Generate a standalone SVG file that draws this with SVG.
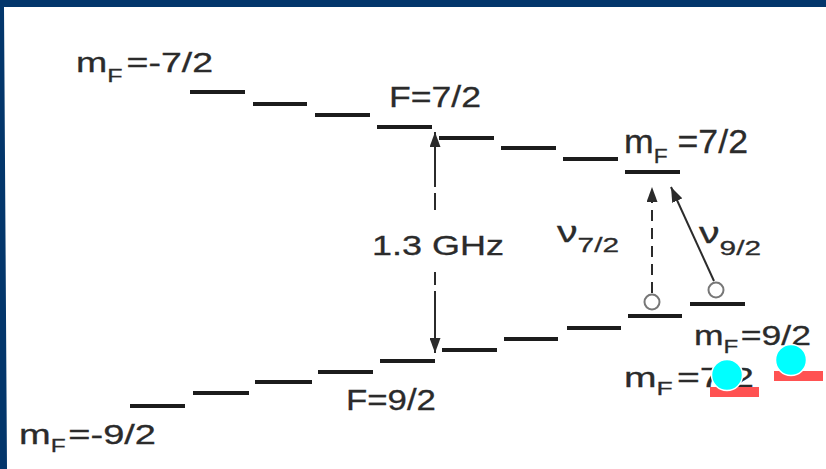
<svg xmlns="http://www.w3.org/2000/svg" width="826" height="469" viewBox="0 0 826 469">
  <style>
    .bar { stroke: #1c1c1c; stroke-width: 4; }
    .lbl { font-family: "Liberation Sans", Arial, sans-serif; fill: #2b2b2b; stroke: #2b2b2b; stroke-width: 0.3; }
    .arr { stroke: #2b2b2b; stroke-width: 2; fill: none; }
    .dash { stroke-dasharray: 11 7; }
    .atom { fill: #ffffff; stroke: #777777; stroke-width: 2; }
    .mark { fill: #00ffff; stroke: #ffffff; stroke-width: 1.5; }
    .tag { fill: #ff5252; }
  </style>
  <defs>
    <marker id="head" markerUnits="userSpaceOnUse" markerWidth="15" markerHeight="11" refX="15" refY="5.5" orient="auto">
      <path d="M0,0 L15,5.5 L0,11 z" fill="#2b2b2b"/>
    </marker>
  </defs>

  <rect width="826" height="469" fill="#ffffff"/>
  <!-- frame -->
  <polygon points="0,0 826,0 826,7 4,7 7,469 0,469" fill="#03366b"/>

  <!-- upper hyperfine manifold, F=7/2 -->
  <g id="level-F72">
    <line class="bar" x1="190" y1="92" x2="245" y2="92"/>
    <line class="bar" x1="253" y1="104" x2="307" y2="104"/>
    <line class="bar" x1="315" y1="115" x2="370" y2="115"/>
    <line class="bar" x1="377" y1="127" x2="432" y2="127"/>
    <line class="bar" x1="439" y1="138" x2="494" y2="138"/>
    <line class="bar" x1="501" y1="148" x2="556" y2="148"/>
    <line class="bar" x1="563" y1="159" x2="618" y2="159"/>
    <line class="bar" x1="625" y1="172" x2="680" y2="172"/>
  </g>

  <!-- lower hyperfine manifold, F=9/2 -->
  <g id="level-F92">
    <line class="bar" x1="130" y1="406" x2="185" y2="406"/>
    <line class="bar" x1="193" y1="393" x2="249" y2="393"/>
    <line class="bar" x1="255" y1="382" x2="312" y2="382"/>
    <line class="bar" x1="318" y1="372" x2="373" y2="372"/>
    <line class="bar" x1="380" y1="361" x2="435" y2="361"/>
    <line class="bar" x1="442" y1="350" x2="497" y2="350"/>
    <line class="bar" x1="504" y1="339" x2="558" y2="339"/>
    <line class="bar" x1="567" y1="328" x2="621" y2="328"/>
    <line class="bar" x1="628" y1="316" x2="682" y2="316"/>
    <line class="bar" x1="690" y1="304" x2="745" y2="304"/>
  </g>

  <!-- populated sublevels -->
  <g id="atoms">
    <circle class="atom" cx="652" cy="302" r="7.5"/>
    <circle class="atom" cx="716" cy="290" r="7.5"/>
  </g>

  <!-- transitions -->
  <g id="connectors">
    <line class="arr" x1="435" y1="187" x2="435" y2="132" marker-end="url(#head)"/>
    <line class="arr" x1="435" y1="193" x2="435" y2="210"/>
    <line class="arr" x1="435" y1="272" x2="435" y2="285"/>
    <line class="arr" x1="435" y1="291" x2="435" y2="353" marker-end="url(#head)"/>
    <line class="arr dash" x1="652" y1="293" x2="652" y2="187" marker-end="url(#head)"/>
    <line class="arr" x1="714" y1="281" x2="671" y2="187" marker-end="url(#head)"/>
  </g>

  <!-- labels -->
  <g id="labels">
    <text class="lbl" x="76" y="72" font-size="27" textLength="137" lengthAdjust="spacingAndGlyphs">m<tspan dy="10" font-size="18">F</tspan><tspan dy="-10" dx="3">=-7/2</tspan></text>
    <text class="lbl" x="389" y="107" font-size="30" textLength="92" lengthAdjust="spacingAndGlyphs">F=7/2</text>
    <text class="lbl" x="624" y="153" font-size="33" textLength="124" lengthAdjust="spacingAndGlyphs">m<tspan dy="10" font-size="21">F</tspan><tspan dy="-10"> =7/2</tspan></text>
    <text class="lbl" x="372" y="255" font-size="28" textLength="132" lengthAdjust="spacingAndGlyphs">1.3 GHz</text>
    <text class="lbl" x="557" y="242" font-size="29" textLength="62" lengthAdjust="spacingAndGlyphs">ν<tspan dy="10" font-size="21">7/2</tspan></text>
    <text class="lbl" x="699" y="243" font-size="29" textLength="62" lengthAdjust="spacingAndGlyphs">ν<tspan dy="12" font-size="21">9/2</tspan></text>
    <text class="lbl" x="694" y="345" font-size="28" textLength="117" lengthAdjust="spacingAndGlyphs">m<tspan dy="8" font-size="19">F</tspan><tspan dy="-8" dx="2">=9/2</tspan></text>
    <text class="lbl" x="624" y="387" font-size="28" textLength="130" lengthAdjust="spacingAndGlyphs">m<tspan dy="8" font-size="19">F</tspan><tspan dy="-8" dx="3">=7/2</tspan></text>
    <text class="lbl" x="346" y="410" font-size="30" textLength="90" lengthAdjust="spacingAndGlyphs">F=9/2</text>
    <text class="lbl" x="19" y="444" font-size="28" textLength="137" lengthAdjust="spacingAndGlyphs">m<tspan dy="8" font-size="18">F</tspan><tspan dy="-8" dx="2">=-9/2</tspan></text>
  </g>

  <!-- highlight markers -->
  <g id="markers">
    <rect class="tag" x="710" y="387" width="49" height="10"/>
    <rect class="tag" x="774" y="371" width="49" height="10"/>
    <circle class="mark" cx="727" cy="375" r="15.5"/>
    <circle class="mark" cx="791" cy="360" r="15.5"/>
  </g>
</svg>
